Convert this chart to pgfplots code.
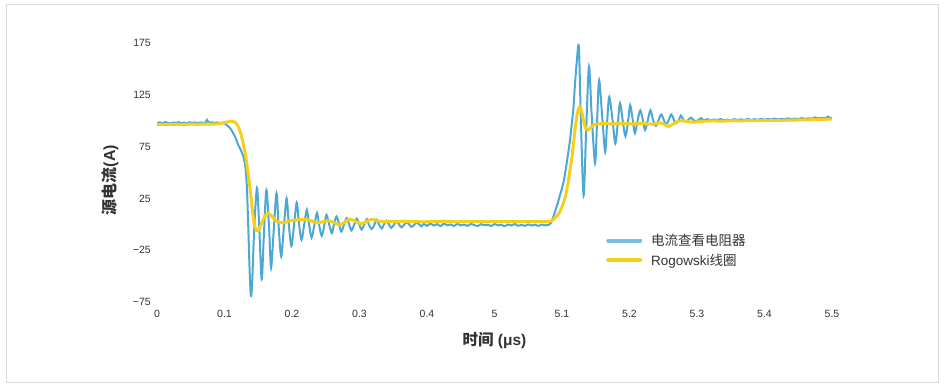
\documentclass[border=0pt]{standalone}
\usepackage{fontspec}
\setmainfont{Liberation Sans}
\newfontfamily\cjk{Noto Sans CJK SC}
\usepackage{pgfplots}
\pgfplotsset{compat=1.18}
\definecolor{cblue}{RGB}{78,168,212}
\definecolor{lblue}{RGB}{120,190,225}
\definecolor{cyellow}{RGB}{244,207,30}
\definecolor{tgray}{RGB}{51,51,51}
\definecolor{framegray}{RGB}{218,218,218}
\begin{document}
\begin{tikzpicture}[x=1pt,y=1pt]
\useasboundingbox (0,0) rectangle (948,389);
\draw[framegray, line width=1pt] (6,7) rectangle (938.5,384);
\begin{axis}[
  at={(157pt,87pt)}, anchor=south west,
  scale only axis, width=675pt, height=259pt,
  xmin=0, xmax=10, ymin=-75, ymax=175,
  axis line style={draw=none},
  tick style={draw=none},
  xtick={0,1,2,3,4,5,6,7,8,9,10},
  xticklabels={0,0.1,0.2,0.3,0.4,5,5.1,5.2,5.3,5.4,5.5},
  ytick={-75,-25,25,75,125,175},
  yticklabels={−75,−25,25,75,125,175},
  xticklabel style={font=\fontsize{10.5}{12}\selectfont, text=tgray, inner sep=0pt, yshift=-8pt},
  yticklabel style={font=\fontsize{10.5}{12}\selectfont, text=tgray, inner sep=0pt, xshift=-6pt},
  every axis x label/.style={at={(axis description cs:0.5,-0.147)}, anchor=center},
  every axis y label/.style={at={(axis description cs:-0.0696,0.471)}, anchor=center, rotate=90},
  xlabel={\fontsize{15.5}{17}\selectfont\bfseries\color{tgray}{\cjk\bfseries 时间} (μs)},
  ylabel={\fontsize{16}{17}\selectfont\bfseries\color{tgray}{\cjk\bfseries 源电流}(A)},
  legend cell align=left,
  legend style={at={(axis description cs:0.6652,0.199)}, anchor=west, draw=none, fill=none,
    inner sep=0pt, row sep=7pt, column sep=9pt,
    font=\fontsize{13.5}{15}\selectfont, text=tgray,
    nodes={inner sep=0pt, anchor=west}},
]
\addplot[cblue, line width=2pt, smooth, tension=0.5,
  legend image code/.code={\draw[lblue, line width=4pt, line cap=round] (1.5pt,0pt) -- (33.5pt,0pt);}] coordinates {
(0,97.5)(0.04,98.4)(0.08,97.6)(0.12,98.7)(0.16,98.0)(0.2,97.4)(0.24,98.3)(0.28,97.8)(0.32,98.6)(0.36,97.7)(0.4,98.2)(0.44,97.5)(0.48,98.5)(0.52,97.9)(0.56,98.3)(0.6,97.6)(0.64,98.4)(0.68,97.8)(0.72,98.2)(0.74,100.8)(0.77,98.0)(0.81,98.5)(0.85,97.7)(0.89,98.4)(0.93,97.9)(0.97,98.1)(1.0,97.3)(1.04,95.5)(1.08,93)(1.12,89)(1.16,84)(1.2,77)(1.24,72)(1.28,65)(1.31,55)(1.33,38)(1.35,2)(1.37,-40)(1.39,-69)(1.41,-56)(1.44,-5)(1.48,35)(1.51,5)(1.55,-53)(1.58,-15)(1.62,33)(1.66,-3)(1.69,-42)(1.73,-5)(1.77,30)(1.80,0)(1.84,-31)(1.88,-2)(1.92,25)(1.95,2)(1.99,-21)(2.03,-1)(2.07,21)(2.10,3)(2.14,-15)(2.18,-0.5)(2.22,14)(2.25,1)(2.29,-13)(2.33,-1)(2.37,11)(2.40,0)(2.44,-11)(2.48,-0.5)(2.51,9)(2.55,0)(2.59,-8.5)(2.62,-0.5)(2.66,7.5)(2.70,-0.5)(2.73,-7)(2.77,-0.5)(2.81,6)(2.85,-0.5)(2.88,-6)(2.92,-0.5)(2.96,5.5)(3.00,-0.5)(3.03,-5)(3.07,-0.5)(3.11,5)(3.14,-0.5)(3.18,-4.5)(3.22,-0.5)(3.25,4.5)(3.29,-0.5)(3.33,-4)(3.36,-0.5)(3.40,3.5)(3.44,-0.5)(3.47,-3.5)(3.51,-0.5)(3.55,3)(3.59,-0.5)(3.62,-3)(3.66,-0.5)(3.70,2)(3.74,-0.5)(3.77,-2.5)(3.81,-0.5)(3.85,1.5)(3.89,-0.5)(3.92,-2)
(3.95,0.5)(4.0,-1.5)(4.05,0.8)(4.1,-1.2)(4.15,0.2)(4.2,-1.8)(4.25,0.6)(4.3,-0.9)(4.35,-0.2)(4.4,-1.6)(4.45,0.4)(4.5,-1.1)(4.55,-0.3)(4.6,-1.5)(4.65,0.3)(4.7,-0.8)(4.75,-1.7)(4.8,0.1)(4.85,-0.9)(4.9,-0.4)(4.95,-1.6)(5.0,0.2)(5.05,-1.0)(5.1,-0.5)(5.15,-1.8)(5.2,-0.2)(5.25,-1.1)(5.3,0.3)(5.35,-1.4)(5.4,-0.6)(5.45,-1.5)(5.5,-0.1)(5.55,-1.2)(5.6,-0.4)(5.65,-1.6)(5.7,-0.3)(5.75,-1.0)(5.8,-0.6)
(5.83,0.8)(5.87,7)(5.92,17)(5.97,28)(6.02,40)(6.06,55)(6.09,68)(6.12,82)(6.14,94)(6.17,113)(6.19,133)(6.22,158)(6.25,171)(6.28,100)(6.32,28)(6.36,95)(6.40,152)(6.44,105)(6.49,59)(6.52,100)(6.55,139)(6.60,100)(6.64,70)(6.67,100)(6.70,123)(6.75,100)(6.79,78)(6.83,100)(6.86,117)(6.90,100)(6.94,85)(6.98,100)(7.01,115)(7.05,100)(7.08,88)(7.12,100)(7.16,110)(7.20,100)(7.23,91)(7.27,100)(7.31,110)(7.35,100.5)(7.39,95)(7.43,100.5)(7.47,106)(7.51,100.5)(7.54,96)(7.58,100.5)(7.62,106)(7.66,100.5)(7.69,97.5)(7.73,100.5)(7.76,105)(7.80,100.5)(7.83,99)(7.87,100.5)(7.91,103)(7.95,100.5)(7.98,99.5)(8.02,100.5)(8.06,102.5)
(8.1,100.4)(8.15,101.5)(8.2,100.3)(8.25,101.2)(8.3,100.6)(8.35,101.6)(8.4,100.5)(8.45,101.0)(8.5,100.4)(8.55,101.5)(8.6,100.7)(8.65,101.3)(8.7,100.6)(8.75,101.7)(8.8,100.8)(8.85,101.4)(8.9,100.9)(8.95,101.8)(9.0,101.0)(9.05,101.6)(9.1,101.1)(9.15,102.0)(9.2,101.2)(9.25,101.8)(9.3,101.3)(9.35,102.2)(9.4,101.5)(9.45,102.0)(9.5,101.6)(9.55,102.5)(9.6,101.8)(9.65,102.3)(9.7,102.0)(9.75,103.2)(9.8,102.2)(9.85,102.8)(9.9,102.4)(9.94,104)(9.97,102.6)(10,103)
};
\addlegendentry{\cjk 电流查看电阻器}
\addplot[cyellow, line width=3pt, smooth, tension=0.5,
  legend image code/.code={\draw[cyellow, line width=4pt, line cap=round] (1.5pt,0pt) -- (33.5pt,0pt);}] coordinates {
(0,96.2)(0.1,96.5)(0.2,96.3)(0.3,96.6)(0.4,96.4)(0.5,96.7)(0.6,96.5)(0.7,96.8)(0.8,96.6)(0.9,96.9)(0.95,97.3)(1.0,98.2)(1.05,98.9)(1.1,99.2)(1.15,98.8)(1.19,96)(1.23,90)(1.27,80)(1.31,67)(1.35,49)(1.39,28)(1.42,10)(1.45,-2)(1.48,-6)(1.51,-5)(1.55,1)(1.60,8)(1.65,10.5)(1.70,8)(1.75,4)(1.81,2)(1.88,1.5)(1.95,3)(2.04,4.2)(2.13,4.5)(2.22,4.6)(2.30,3)(2.38,1.5)(2.46,2.5)(2.54,3.6)(2.62,1.8)(2.71,-0.5)(2.79,2.5)(2.86,5)(2.94,3)(3.02,0.5)(3.10,2.5)(3.18,4.8)(3.27,3.5)(3.36,2.4)(3.45,2.8)(3.55,2.4)(3.65,3.0)(3.75,2.5)
(3.85,2.7)(3.95,2.3)(4.05,2.8)(4.15,2.5)(4.25,3.0)(4.35,2.6)(4.45,2.4)(4.55,2.9)(4.65,2.5)(4.75,2.7)(4.85,2.4)(4.95,2.8)(5.05,2.6)(5.15,2.5)(5.25,2.8)(5.35,2.5)(5.45,2.7)(5.55,2.5)(5.65,2.7)(5.75,2.6)(5.82,2.8)
(5.88,5)(5.95,10)(6.0,17)(6.05,27)(6.09,40)(6.12,53)(6.15,66)(6.17,78)(6.20,95)(6.23,108)(6.26,113.5)(6.29,109)(6.32,100)(6.35,93)(6.38,91)(6.42,93)(6.47,96)(6.55,97)(6.65,97.2)(6.75,96.8)(6.85,97.5)(6.95,97.2)(7.05,97)(7.15,97.5)(7.25,97)(7.35,96.5)(7.45,98)(7.50,97)(7.57,94.5)(7.64,96.5)(7.72,99.5)(7.80,99.8)(7.88,99)(7.96,98.6)(8.05,99.3)(8.15,99.6)(8.25,99.9)(8.35,99.5)(8.45,99.8)(8.55,100)(8.65,99.7)(8.75,100.1)(8.85,99.9)(8.95,100.2)(9.05,100)(9.15,100.4)(9.25,100.2)(9.35,100.6)(9.45,100.5)(9.55,100.9)(9.65,100.8)(9.75,101.2)(9.85,101.1)(9.95,101.6)(10,101.5)
};
\addlegendentry{Rogowski{\cjk 线圈}}
\end{axis}
\end{tikzpicture}
\end{document}
